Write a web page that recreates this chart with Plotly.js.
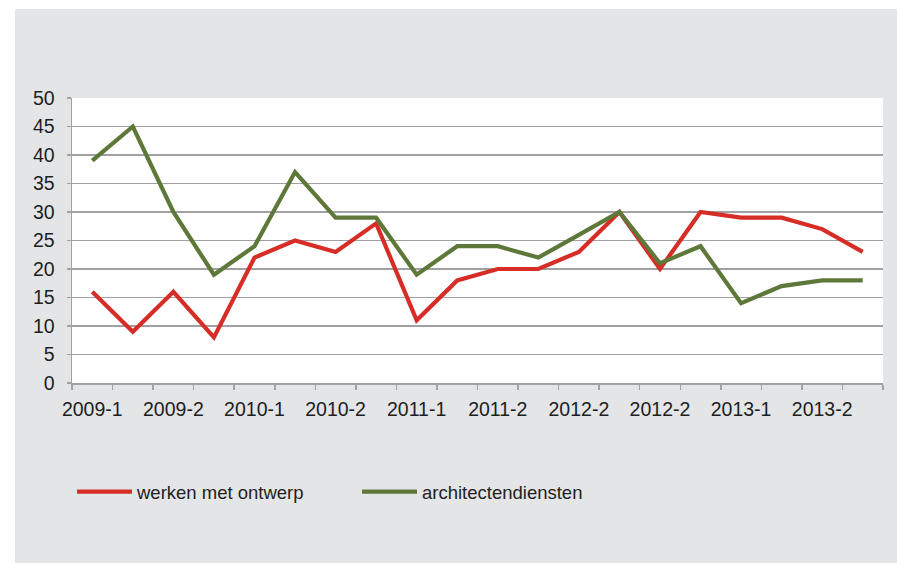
<!DOCTYPE html>
<html>
<head>
<meta charset="utf-8">
<script src="https://cdn.plot.ly/plotly-3.0.1.min.js"></script>
<style>html,body{margin:0;padding:0;background:#fff;}#chart{width:897px;height:563px;}</style>
</head>
<body>
<div id="chart"></div>
<script>
// Period labels shown on the x axis (one label per two periods)
const tickLabels = ['2009-1','2009-2','2010-1','2010-2','2011-1','2011-2','2012-2','2012-2','2013-1','2013-2'];
// Series values (20 periods)
const werkenMetOntwerp = [16, 9, 16, 8, 22, 25, 23, 28, 11, 18, 20, 20, 23, 30, 20, 30, 29, 29, 27, 23];
const architectendiensten = [39, 45, 30, 19, 24, 37, 29, 29, 19, 24, 24, 22, 26, 30, 21, 24, 14, 17, 18, 18];
const seriesNames = ['werken met ontwerp', 'architectendiensten'];

const W = 897, H = 563;
const M = {l: 72, r: 14, t: 98, b: 180};
const pw = W - M.l - M.r, ph = H - M.t - M.b;
const px = v => (v - M.l) / pw;           // pixel -> paper x
const py = v => (H - M.b - v) / ph;       // pixel -> paper y

const xIdx = werkenMetOntwerp.map((_, i) => i);
const tickVals = tickLabels.map((_, i) => i * 2);

const traces = [
  {x: xIdx, y: werkenMetOntwerp, name: seriesNames[0], type: 'scatter', mode: 'lines',
   line: {color: '#d62e27', width: 4.2}},
  {x: xIdx, y: architectendiensten, name: seriesNames[1], type: 'scatter', mode: 'lines',
   line: {color: '#5e783a', width: 4.2}}
];

const axisFont = {family: 'Liberation Sans, Arial, sans-serif', size: 19.5, color: '#1e1e1e'};

const layout = {
  width: W, height: H,
  margin: M,
  paper_bgcolor: '#e4e5e7',
  plot_bgcolor: '#ffffff',
  showlegend: true,
  legend: {
    orientation: 'h', x: px(72), y: py(492), xanchor: 'left', yanchor: 'middle',
    bgcolor: 'rgba(0,0,0,0)', itemwidth: 55, entrywidth: 215, entrywidthmode: 'pixels',
    font: {family: 'Liberation Sans, sans-serif', size: 18.5, color: '#222'}
  },
  xaxis: {
    range: [-0.5, xIdx.length - 0.5], tickmode: 'array', tickvals: tickVals, ticktext: tickLabels,
    ticks: '', showgrid: false, zeroline: false, showline: true, linecolor: '#a0a2a6', linewidth: 1.5,
    tickfont: axisFont, ticklabelstandoff: 8,
    minor: {tickmode: 'linear', tick0: -0.5, dtick: 1, ticks: 'outside', ticklen: 5, tickwidth: 1.5, tickcolor: '#a0a2a6', showgrid: false},
    fixedrange: true
  },
  yaxis: {
    range: [0, 50], tickmode: 'linear', tick0: 0, dtick: 5,
    ticks: 'outside', ticklen: 4, tickwidth: 1.5, tickcolor: '#a0a2a6',
    showgrid: true, gridcolor: '#9fa1a5', gridwidth: 1.6, zeroline: false,
    showline: true, linecolor: '#a0a2a6', linewidth: 1.5,
    tickfont: axisFont, ticklabelstandoff: 8, fixedrange: true
  },
  shapes: [
    {type: 'rect', xref: 'paper', yref: 'paper', layer: 'below', line: {width: 0}, fillcolor: '#ffffff',
     x0: px(-5), x1: px(15), y0: py(H + 5), y1: py(-5)},
    {type: 'rect', xref: 'paper', yref: 'paper', layer: 'below', line: {width: 0}, fillcolor: '#ffffff',
     x0: px(-5), x1: px(W + 5), y0: py(9), y1: py(-5)}
  ]
};

Plotly.newPlot('chart', traces, layout, {displayModeBar: false, staticPlot: true});
</script>
</body>
</html>
